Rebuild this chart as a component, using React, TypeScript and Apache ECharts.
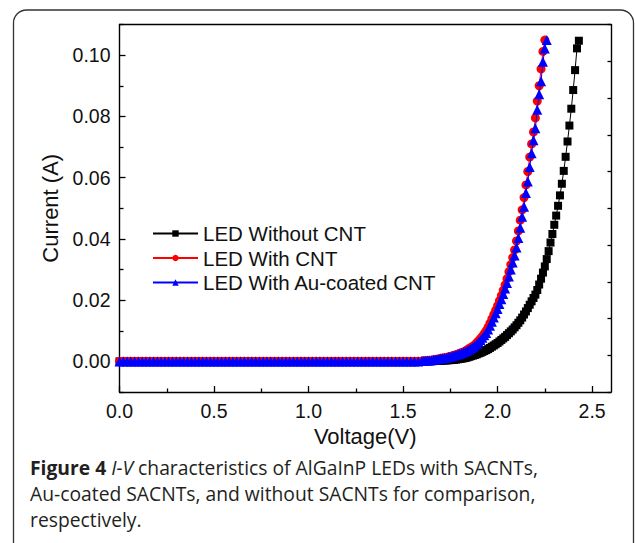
import React, { useEffect, useRef } from "react";
import * as echarts from "echarts";

// ---- Data ----
// Flat (off) region, shared by all three LEDs: current reads as 0 A
const flatVoltage = [0.00, 0.02, 0.04, 0.06, 0.08, 0.10, 0.12, 0.14, 0.16, 0.18, 0.20, 0.22, 0.24, 0.26, 0.28, 0.30, 0.32, 0.34, 0.36, 0.38, 0.40, 0.42, 0.44, 0.46, 0.48, 0.50, 0.52, 0.54, 0.56, 0.58, 0.60, 0.62, 0.64, 0.66, 0.68, 0.70, 0.72, 0.74, 0.76, 0.78, 0.80, 0.82, 0.84, 0.86, 0.88, 0.90, 0.92, 0.94, 0.96, 0.98, 1.00, 1.02, 1.04, 1.06, 1.08, 1.10, 1.12, 1.14, 1.16, 1.18, 1.20, 1.22, 1.24, 1.26, 1.28, 1.30, 1.32, 1.34, 1.36, 1.38, 1.40, 1.42, 1.44, 1.46, 1.48, 1.50, 1.52, 1.54, 1.56, 1.58];
const flatCurrent = [0, 0, 0, 0, 0, 0, 0, 0, 0, 0, 0, 0, 0, 0, 0, 0, 0, 0, 0, 0, 0, 0, 0, 0, 0, 0, 0, 0, 0, 0, 0, 0, 0, 0, 0, 0, 0, 0, 0, 0, 0, 0, 0, 0, 0, 0, 0, 0, 0, 0, 0, 0, 0, 0, 0, 0, 0, 0, 0, 0, 0, 0, 0, 0, 0, 0, 0, 0, 0, 0, 0, 0, 0, 0, 0, 0, 0, 0, 0, 0];

// LED Without CNT
const voltageWithout = [1.60, 1.61, 1.62, 1.63, 1.64, 1.65, 1.66, 1.67, 1.68, 1.69, 1.70, 1.71, 1.72, 1.73, 1.74, 1.75, 1.76, 1.77, 1.78, 1.79, 1.80, 1.81, 1.82, 1.83, 1.84, 1.85, 1.86, 1.87, 1.88, 1.89, 1.90, 1.91, 1.92, 1.93, 1.94, 1.95, 1.96, 1.97, 1.98, 1.99, 2.00, 2.01, 2.02, 2.03, 2.04, 2.05, 2.06, 2.07, 2.08, 2.09, 2.10, 2.11, 2.12, 2.13, 2.14, 2.15, 2.16, 2.17, 2.18, 2.19, 2.20, 2.21, 2.22, 2.23, 2.24, 2.25, 2.26, 2.27, 2.28, 2.29, 2.30, 2.31, 2.32, 2.33, 2.34, 2.35, 2.36, 2.37, 2.38, 2.39, 2.40, 2.41, 2.42, 2.43];
const currentWithout = [0.0000, 0.0000, 0.0001, 0.0001, 0.0001, 0.0001, 0.0001, 0.0002, 0.0002, 0.0002, 0.0002, 0.0003, 0.0003, 0.0003, 0.0004, 0.0004, 0.0005, 0.0005, 0.0006, 0.0007, 0.0008, 0.0009, 0.0010, 0.0011, 0.0013, 0.0015, 0.0017, 0.0019, 0.0021, 0.0023, 0.0026, 0.0028, 0.0031, 0.0034, 0.0037, 0.0040, 0.0044, 0.0048, 0.0052, 0.0056, 0.0060, 0.0065, 0.0070, 0.0075, 0.0080, 0.0086, 0.0092, 0.0098, 0.0104, 0.0111, 0.0118, 0.0126, 0.0134, 0.0143, 0.0153, 0.0163, 0.0174, 0.0185, 0.0196, 0.0207, 0.0218, 0.0233, 0.0251, 0.0270, 0.0290, 0.0310, 0.0334, 0.0360, 0.0388, 0.0416, 0.0446, 0.0476, 0.0508, 0.0542, 0.0580, 0.0622, 0.0668, 0.0718, 0.0770, 0.0825, 0.0886, 0.0951, 0.1022, 0.1047];

// LED With CNT
const voltageCNT = [1.60, 1.61, 1.62, 1.63, 1.64, 1.65, 1.66, 1.67, 1.68, 1.69, 1.70, 1.71, 1.72, 1.73, 1.74, 1.75, 1.76, 1.77, 1.78, 1.79, 1.80, 1.81, 1.82, 1.83, 1.84, 1.85, 1.86, 1.87, 1.88, 1.89, 1.90, 1.91, 1.92, 1.93, 1.94, 1.95, 1.96, 1.97, 1.98, 1.99, 2.00, 2.01, 2.02, 2.03, 2.04, 2.05, 2.06, 2.07, 2.08, 2.09, 2.10, 2.11, 2.12, 2.13, 2.14, 2.15, 2.16, 2.17, 2.18, 2.19, 2.20, 2.21, 2.22, 2.23, 2.24, 2.25];
const currentCNT = [0.0001, 0.0002, 0.0002, 0.0003, 0.0004, 0.0004, 0.0005, 0.0006, 0.0007, 0.0008, 0.0010, 0.0011, 0.0012, 0.0013, 0.0015, 0.0016, 0.0018, 0.0020, 0.0022, 0.0024, 0.0026, 0.0029, 0.0031, 0.0034, 0.0038, 0.0042, 0.0046, 0.0050, 0.0055, 0.0061, 0.0068, 0.0075, 0.0082, 0.0091, 0.0100, 0.0112, 0.0125, 0.0139, 0.0153, 0.0167, 0.0182, 0.0198, 0.0215, 0.0232, 0.0250, 0.0270, 0.0293, 0.0316, 0.0339, 0.0364, 0.0393, 0.0426, 0.0461, 0.0495, 0.0535, 0.0576, 0.0620, 0.0667, 0.0710, 0.0749, 0.0795, 0.0850, 0.0900, 0.0955, 0.1012, 0.1049];

// LED With Au-coated CNT
const voltageAu = [1.60, 1.61, 1.62, 1.63, 1.64, 1.65, 1.66, 1.67, 1.68, 1.69, 1.70, 1.71, 1.72, 1.73, 1.74, 1.75, 1.76, 1.77, 1.78, 1.79, 1.80, 1.81, 1.82, 1.83, 1.84, 1.85, 1.86, 1.87, 1.88, 1.89, 1.90, 1.91, 1.92, 1.93, 1.94, 1.95, 1.96, 1.97, 1.98, 1.99, 2.00, 2.01, 2.02, 2.03, 2.04, 2.05, 2.06, 2.07, 2.08, 2.09, 2.10, 2.11, 2.12, 2.13, 2.14, 2.15, 2.16, 2.17, 2.18, 2.19, 2.20, 2.21, 2.22, 2.23, 2.24, 2.25, 2.26];
const currentAu = [0.0001, 0.0002, 0.0002, 0.0003, 0.0003, 0.0004, 0.0005, 0.0006, 0.0007, 0.0008, 0.0009, 0.0010, 0.0011, 0.0012, 0.0014, 0.0015, 0.0017, 0.0019, 0.0021, 0.0023, 0.0025, 0.0027, 0.0030, 0.0032, 0.0035, 0.0039, 0.0043, 0.0047, 0.0052, 0.0057, 0.0063, 0.0070, 0.0077, 0.0085, 0.0093, 0.0104, 0.0116, 0.0129, 0.0143, 0.0157, 0.0171, 0.0187, 0.0203, 0.0220, 0.0238, 0.0256, 0.0277, 0.0300, 0.0323, 0.0346, 0.0372, 0.0403, 0.0436, 0.0472, 0.0505, 0.0550, 0.0587, 0.0635, 0.0680, 0.0722, 0.0761, 0.0822, 0.0872, 0.0915, 0.0978, 0.1022, 0.1049];

const seriesNames = ["LED Without CNT", "LED With CNT", "LED With Au-coated CNT"];

// Axis ticks
const xMajorTicks = [0, 0.5, 1.0, 1.5, 2.0, 2.5];
const xMinorTicks = [0.25, 0.75, 1.25, 1.75, 2.25];
const yMajorTicks = [0, 0.02, 0.04, 0.06, 0.08, 0.1];
const yMinorTicks = [-0.01, 0.01, 0.03, 0.05, 0.07, 0.09, 0.11];

const captionLines = [
  "{b|Figure 4} {i|I-V} characteristics of AlGaInP LEDs with SACNTs,",
  "Au-coated SACNTs, and without SACNTs for comparison,",
  "respectively.",
];

function pairs(v: number[], c: number[]) {
  return v.map((x, i) => [x, c[i]]);
}

const AXIS_COLOR = "#000";
const FONT = "'Liberation Sans', Arial, sans-serif";
const CAP_FONT = "'Open Sans', 'Noto Sans', sans-serif";
const CAP_SIZE = 19.3;

export default function App() {
  const ref = useRef<HTMLDivElement>(null);
  useEffect(() => {
    if (!ref.current) return;
    const chart = echarts.init(ref.current, undefined, { renderer: "svg" });
    const mk = (name: string, data: number[][], color: string, symbol: string, size: number, z: number) => ({
      name,
      type: "line",
      data,
      xAxisIndex: 0,
      yAxisIndex: 0,
      z,
      symbol,
      symbolSize: size,
      showAllSymbol: true,
      lineStyle: { color, width: 1 },
      itemStyle: { color, borderWidth: 0 },
      emphasis: { disabled: true },
    });
    const tickStyle = { color: AXIS_COLOR, width: 1.3 };
    const axisLine = () => ({ show: true, onZero: false, lineStyle: { color: AXIS_COLOR, width: 1.4 } });
    chart.setOption({
      animation: false,
      backgroundColor: "#fff",
      grid: { left: 119.5, right: 24, top: 24.5, bottom: 151 },
      legend: {
        orient: "vertical",
        left: 147,
        top: 218,
        itemWidth: 45,
        itemHeight: 8,
        itemGap: 3.5,
        textStyle: { fontFamily: FONT, fontSize: 20.5, color: "#111", lineHeight: 21 },
        data: seriesNames,
      },
      xAxis: [
        {
          type: "value",
          position: "bottom",
          min: 0,
          max: 2.6,
          name: "Voltage(V)",
          nameLocation: "middle",
          nameGap: 33,
          nameTextStyle: { fontFamily: FONT, fontSize: 22, color: "#111" },
          axisLine: axisLine(),
          axisTick: { show: true, inside: true, length: 6, customValues: xMajorTicks, lineStyle: tickStyle },
          axisLabel: { show: true, customValues: xMajorTicks, margin: 9, fontFamily: FONT, fontSize: 19.5, color: "#111", formatter: (v: number) => v.toFixed(1) },
          splitLine: { show: false },
        },
        {
          type: "value",
          position: "bottom",
          min: 0,
          max: 2.6,
          axisLine: { show: false, onZero: false },
          axisTick: { show: true, inside: true, length: 3.5, customValues: xMinorTicks, lineStyle: tickStyle },
          axisLabel: { show: false },
          splitLine: { show: false },
        },
        {
          type: "value",
          position: "top",
          min: 0,
          max: 2.6,
          axisLine: axisLine(),
          axisTick: { show: false },
          axisLabel: { show: false },
          splitLine: { show: false },
        },
      ],
      yAxis: [
        {
          type: "value",
          position: "left",
          min: -0.01,
          max: 0.11,
          name: "Current (A)",
          nameLocation: "middle",
          nameGap: 58,
          nameTextStyle: { fontFamily: FONT, fontSize: 22, color: "#111" },
          axisLine: axisLine(),
          axisTick: { show: true, inside: true, length: 6, customValues: yMajorTicks, lineStyle: tickStyle },
          axisLabel: { show: true, customValues: yMajorTicks, margin: 9, fontFamily: FONT, fontSize: 19.5, color: "#111", formatter: (v: number) => v.toFixed(2) },
          splitLine: { show: false },
        },
        {
          type: "value",
          position: "left",
          min: -0.01,
          max: 0.11,
          axisLine: { show: false, onZero: false },
          axisTick: { show: true, inside: true, length: 4, customValues: yMinorTicks, lineStyle: tickStyle },
          axisLabel: { show: false },
          splitLine: { show: false },
        },
        {
          type: "value",
          position: "right",
          min: 0,
          max: 10,
          interval: 1,
          axisLine: axisLine(),
          axisTick: { show: true, inside: true, length: 3.5, lineStyle: tickStyle },
          axisLabel: { show: false },
          splitLine: { show: false },
        },
      ],
      series: [
        mk(seriesNames[0], pairs(flatVoltage, flatCurrent).concat(pairs(voltageWithout, currentWithout)), "#000000", "rect", 8, 2),
        mk(seriesNames[1], pairs(flatVoltage, flatCurrent).concat(pairs(voltageCNT, currentCNT)), "#ff0000", "circle", 9, 3),
        mk(seriesNames[2], pairs(flatVoltage, flatCurrent).concat(pairs(voltageAu, currentAu)), "#0000ff", "triangle", 10, 4),
      ],
      graphic: [
        {
          type: "rect",
          silent: true,
          shape: { x: 13.5, y: 10, width: 620, height: 580, r: 13 },
          style: { fill: "none", stroke: "#333", lineWidth: 1.3 },
          z: 0,
        },
        ...captionLines.map((t, i) => ({
          type: "text",
          silent: true,
          x: 30,
          y: 467 + i * 26,
          style: {
            text: t,
            fontFamily: CAP_FONT,
            fontSize: CAP_SIZE,
            fill: "#231f20",
            verticalAlign: "middle",
            rich: {
              b: { fontFamily: CAP_FONT, fontSize: CAP_SIZE, fontWeight: "bold", fill: "#231f20" },
              i: { fontFamily: CAP_FONT, fontSize: CAP_SIZE, fontStyle: "italic", fill: "#231f20" },
            },
          },
        })),
      ],
    });
    return () => chart.dispose();
  }, []);
  return (
    <div
      ref={ref}
      style={{ position: "absolute", left: 0, top: 0, width: 635, height: 543, background: "#fff" }}
    />
  );
}
